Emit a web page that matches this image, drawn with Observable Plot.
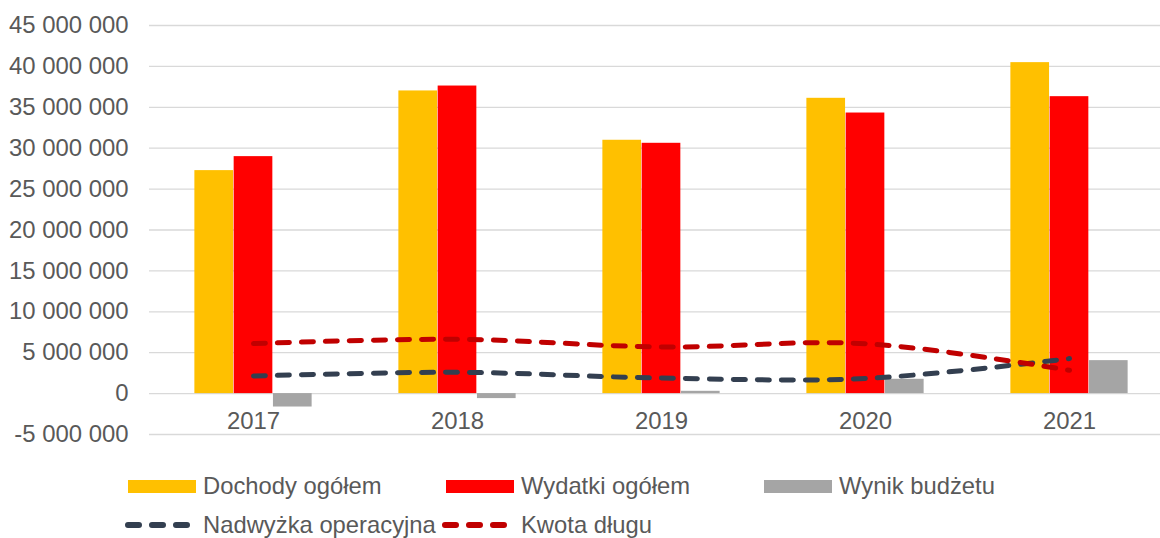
<!DOCTYPE html>
<html><head><meta charset="utf-8">
<script src="https://cdn.jsdelivr.net/npm/d3@7"></script>
<script src="https://cdn.jsdelivr.net/npm/@observablehq/plot@0.6"></script>
<style>
body{margin:0;background:#fff;font-family:"Liberation Sans",Arial,sans-serif;}
#chart{position:relative;width:1160px;height:538px;overflow:hidden;background:#fff}
#chart > svg{position:absolute;left:0;top:0}
.leg{position:absolute;height:30px;display:flex;align-items:center;font-size:23.8px;color:#595959;white-space:nowrap;line-height:1}
.sw{display:inline-block;width:68px;height:13px;margin-right:7px}
</style></head><body><div id="chart"></div>
<script>
// ---- data ----
const years = ["2017", "2018", "2019", "2020", "2021"];
const dochody  = [27260000, 37000000, 30970000, 36100000, 40460000];
const wydatki  = [28970000, 37600000, 30600000, 34300000, 36300000];
const wynik    = [-1640000, -610000, 280000, 1750000, 4030000];
const nadwyzka = [2150000, 2600000, 1900000, 1850000, 4280000];
const kwota    = [6110000, 6640000, 5700000, 6100000, 2850000];
const barNames  = ["Dochody ogółem", "Wydatki ogółem", "Wynik budżetu"];
const barColors = ["#FFC000", "#FF0000", "#A5A5A5"];
const lineNames  = ["Nadwyżka operacyjna", "Kwota długu"];
const lineColors = ["#333F50", "#C00000"];
const yTicks = [-5000000, 0, 5000000, 10000000, 15000000, 20000000, 25000000, 30000000, 35000000, 40000000, 45000000];

// ---- layout ----
const W = 1160, H = 455, ML = 149, MR = -12;
const step = (W - ML - MR) / years.length;
const barW = step * 0.192;
const inset = (step - barW) / 2;
const font = "Liberation Sans, Arial, sans-serif";
const fmt = d => d3.format(",")(d).replace(/,/g, " ").replace("−", "-");

const barSets = [dochody, wydatki, wynik];
const lineSets = [nadwyzka, kwota];

const marks = [
  Plot.ruleY(yTicks, {stroke: "#D9D9D9", strokeWidth: 1.3}),
  Plot.axisY({ticks: yTicks, tickSize: 0, tickPadding: 21, tickFormat: fmt, fill: "#595959", fontSize: 23.9, label: null}),
  ...barSets.map((vals, k) => Plot.barY(years, {
    x: d => d, y: (d, i) => vals[i], fill: barColors[k],
    dx: (k - 1) * barW, insetLeft: inset, insetRight: inset
  })),
  Plot.text(years, {x: d => d, y: 0, text: d => d, dy: 28, fill: "#595959", fontSize: 23.9}),
  ...lineSets.map((vals, k) => Plot.line(years, {
    x: d => d, y: (d, i) => vals[i], stroke: lineColors[k], strokeWidth: 5,
    strokeDasharray: "12,12", strokeLinecap: "round", curve: "catmull-rom"
  }))
];

const svg = Plot.plot({
  width: W, height: H, marginLeft: ML, marginRight: MR, marginTop: 25, marginBottom: 21,
  style: {fontFamily: font, fontSize: "23.9px", color: "#595959", background: "transparent", overflow: "hidden"},
  x: {type: "band", domain: years, padding: 0, axis: null},
  y: {domain: [-5000000, 45000000], axis: null},
  marks
});
const chart = document.getElementById("chart");
chart.appendChild(svg);

// ---- legend ----
const row1 = [128, 446, 764];
barNames.forEach((n, k) => {
  const d = document.createElement("div");
  d.className = "leg";
  d.style.left = row1[k] + "px";
  d.style.top = "471px";
  d.innerHTML = `<span class="sw" style="background:${barColors[k]}"></span>${n}`;
  chart.appendChild(d);
});
const row2 = [125, 442];
lineNames.forEach((n, k) => {
  const d = document.createElement("div");
  d.className = "leg";
  d.style.left = row2[k] + "px";
  d.style.top = "510px";
  d.innerHTML = `<svg width="67" height="14" style="margin-right:${k ? 12 : 11}px;overflow:visible"><line x1="3" x2="62" y1="7" y2="7" stroke="${lineColors[k]}" stroke-width="6" stroke-dasharray="11,13" stroke-linecap="round"/></svg>${n}`;
  chart.appendChild(d);
});
</script></body></html>
